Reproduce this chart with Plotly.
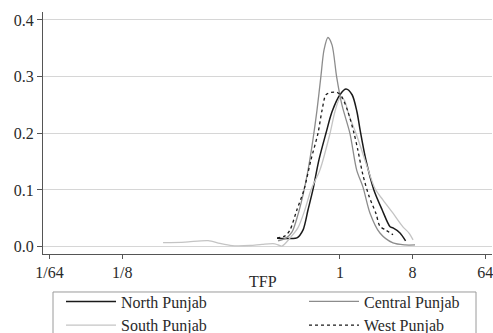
import plotly.graph_objects as go

# x values are log2(TFP) positions as laid out on the reference axis
tick_vals = [-12, -9, 0, 3, 6]
tick_text = ["1/64", "1/8", "1", "8", "64"]
y_ticks = [0, 0.1, 0.2, 0.3, 0.4]
y_text = ["0.0", "0.1", "0.2", "0.3", "0.4"]

north_x = [-2.60, -2.07, -1.78, -1.53, -1.32, -1.12, -0.87, -0.58, -0.33, 0.0, 0.25, 0.50, 0.70, 0.83, 1.07, 1.40, 1.74, 2.07, 2.19, 2.48, 2.71]
north_y = [0.015, 0.0145, 0.0153, 0.029, 0.065, 0.100, 0.153, 0.200, 0.238, 0.268, 0.278, 0.268, 0.238, 0.206, 0.153, 0.100, 0.065, 0.035, 0.033, 0.024, 0.010]

central_x = [-2.56, -2.23, -1.98, -1.74, -1.53, -1.32, -1.12, -0.95, -0.79, -0.66, -0.50, -0.33, -0.14, 0.08, 0.41, 0.69, 0.95, 1.24, 1.65, 2.19, 2.69, 3.10]
central_y = [0.010, 0.015, 0.026, 0.056, 0.091, 0.135, 0.188, 0.241, 0.300, 0.347, 0.369, 0.356, 0.300, 0.250, 0.200, 0.135, 0.105, 0.059, 0.024, 0.0065, 0.003, 0.003]

south_x = [-7.31, -6.40, -5.45, -4.96, -4.46, -3.72, -3.22, -2.69, -2.40, -2.07, -1.74, -1.45, -1.20, -0.83, -0.41, -0.21, 0.0, 0.17, 0.37, 0.66, 1.03, 1.45, 1.78, 2.19, 2.60, 2.85, 3.02]
south_y = [0.007, 0.008, 0.0106, 0.0056, 0.0018, 0.002, 0.004, 0.005, 0.001, 0.015, 0.033, 0.065, 0.100, 0.135, 0.200, 0.238, 0.262, 0.259, 0.232, 0.200, 0.153, 0.102, 0.082, 0.059, 0.035, 0.024, 0.012]

west_x = [-2.60, -2.27, -2.07, -1.78, -1.49, -1.20, -0.91, -0.74, -0.58, -0.37, -0.12, 0.08, 0.33, 0.58, 0.74, 0.95, 1.20, 1.49, 1.65, 1.90, 2.19]
west_y = [0.015, 0.019, 0.029, 0.065, 0.100, 0.153, 0.200, 0.241, 0.268, 0.272, 0.272, 0.264, 0.238, 0.200, 0.170, 0.126, 0.089, 0.058, 0.036, 0.029, 0.021]

FONT = "Liberation Serif, serif"
TXT = "#2a2a2a"

fig = go.Figure()
fig.add_trace(go.Scatter(x=north_x, y=north_y, name="North Punjab", mode="lines", legend="legend",
                         line=dict(color="#1a1a1a", width=1.5, shape="spline", smoothing=0.8)))
fig.add_trace(go.Scatter(x=south_x, y=south_y, name="South Punjab", mode="lines", legend="legend",
                         line=dict(color="#c4c4c4", width=1.3, shape="spline", smoothing=0.8)))
fig.add_trace(go.Scatter(x=central_x, y=central_y, name="Central Punjab", mode="lines", legend="legend2",
                         line=dict(color="#8c8c8c", width=1.3, shape="spline", smoothing=0.8)))
fig.add_trace(go.Scatter(x=west_x, y=west_y, name="West Punjab", mode="lines", legend="legend2",
                         line=dict(color="#1a1a1a", width=1.3, dash="dot", shape="spline", smoothing=0.8)))

leg_common = dict(orientation="v", xanchor="left", y=-0.126, yanchor="top",
                  itemwidth=50, borderwidth=0, bgcolor="rgba(0,0,0,0)",
                  font=dict(family=FONT, size=16, color=TXT), traceorder="normal")

fig.update_layout(
    width=493, height=333,
    margin=dict(l=43, r=1, t=12, b=79, autoexpand=False),
    paper_bgcolor="white", plot_bgcolor="white",
    font=dict(family=FONT, size=16, color=TXT),
    showlegend=True,
    legend=dict(x=0.0401, **leg_common),
    legend2=dict(x=0.5813, **leg_common),
    shapes=[dict(type="rect", xref="paper", yref="paper",
                 x0=0.0223, x1=0.9644, y0=-0.157, y1=-0.45,
                 line=dict(color="#9a9a9a", width=1), fillcolor="rgba(0,0,0,0)", layer="below")],
    annotations=[dict(text="TFP", xref="paper", yref="paper", x=0.49, y=-0.1116,
                      xanchor="center", yanchor="middle", showarrow=False,
                      font=dict(family=FONT, size=16, color=TXT))],
    xaxis=dict(
        range=[-12.27, 6.28], tickvals=tick_vals, ticktext=tick_text,
        showgrid=False, zeroline=False, ticklabeloverflow="allow",
        showline=True, linecolor="#555555", linewidth=1.3,
        ticks="outside", ticklen=4, tickcolor="#555555",
        tickfont=dict(family=FONT, size=16, color=TXT),
    ),
    yaxis=dict(
        range=[-0.013, 0.414], tickvals=y_ticks, ticktext=y_text,
        showgrid=True, gridcolor="#d6d6d6", gridwidth=1, zeroline=False,
        showline=True, linecolor="#555555", linewidth=1.3,
        ticks="outside", ticklen=5, tickcolor="#555555",
        tickfont=dict(family=FONT, size=16, color=TXT),
    ),
)

fig.write_html("out.html")
